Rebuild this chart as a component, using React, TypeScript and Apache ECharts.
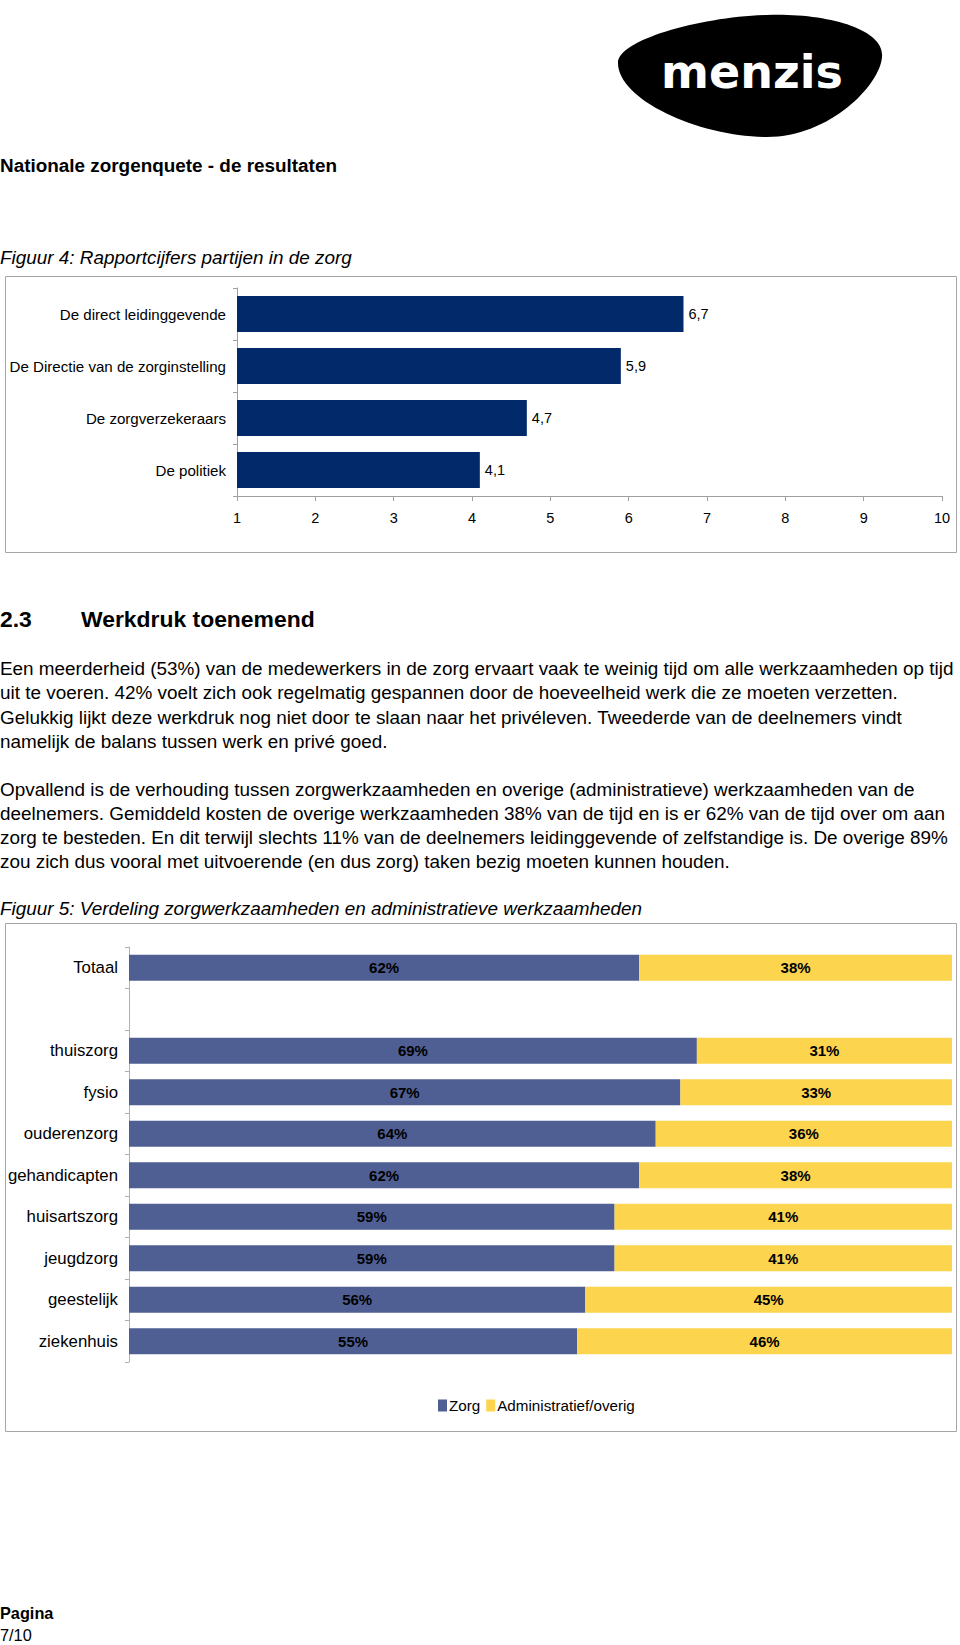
import React, { useEffect, useRef } from "react";
import * as echarts from "echarts";

// ---- Figure 4 data ----
const partijen = [
  "De direct leidinggevende",
  "De Directie van de zorginstelling",
  "De zorgverzekeraars",
  "De politiek",
];
const cijfers = [6.7, 5.9, 4.7, 4.1];

// ---- Figure 5 data ----
const sectoren = [
  "Totaal",
  "",
  "thuiszorg",
  "fysio",
  "ouderenzorg",
  "gehandicapten",
  "huisartszorg",
  "jeugdzorg",
  "geestelijk",
  "ziekenhuis",
];
const zorg: (number | null)[] = [62, null, 69, 67, 64, 62, 59, 59, 56, 55];
const admin: (number | null)[] = [38, null, 31, 33, 36, 38, 41, 41, 45, 46];
const legendNames = ["Zorg", "Administratief/overig"];

// ---- page texts ----
const pageTitle = "Nationale zorgenquete - de resultaten";
const fig4Title = "Figuur 4: Rapportcijfers partijen in de zorg";
const sectionNr = "2.3";
const sectionTitle = "Werkdruk toenemend";
const para1 = [
  "Een meerderheid (53%) van de medewerkers in de zorg ervaart vaak te weinig tijd om alle werkzaamheden op tijd",
  "uit te voeren. 42% voelt zich ook regelmatig gespannen door de hoeveelheid werk die ze moeten verzetten.",
  "Gelukkig lijkt deze werkdruk nog niet door te slaan naar het privéleven. Tweederde van de deelnemers vindt",
  "namelijk de balans tussen werk en privé goed.",
];
const para2 = [
  "Opvallend is de verhouding tussen zorgwerkzaamheden en overige (administratieve) werkzaamheden van de",
  "deelnemers. Gemiddeld kosten de overige werkzaamheden 38% van de tijd en is er 62% van de tijd over om aan",
  "zorg te besteden. En dit terwijl slechts 11% van de deelnemers leidinggevende of zelfstandige is. De overige 89%",
  "zou zich dus vooral met uitvoerende (en dus zorg) taken bezig moeten kunnen houden.",
];
const fig5Title = "Figuur 5: Verdeling zorgwerkzaamheden en administratieve werkzaamheden";
const footer1 = "Pagina";
const footer2 = "7/10";

const FONT = "'Liberation Sans', Arial, Helvetica, sans-serif";
const logoPath =
  "M 618 63 C 618 40 700 17 767 15 C 830 13 885 30 882 57 C 880 85 830 137 767 137 C 700 137 618 100 618 63 Z";

let registered = false;

export default function App() {
  const ref = useRef<HTMLDivElement>(null);

  useEffect(() => {
    document.body.style.margin = "0";
    if (!registered) {
      echarts.graphic.registerShape("menzisLogo", echarts.graphic.extendPath(logoPath, {}) as any);
      registered = true;
    }
    const chart = echarts.init(ref.current!, undefined, { renderer: "svg" });

    const totals = zorg.map((z, i) => (z == null || admin[i] == null ? null : (z as number) + (admin[i] as number)));
    const zorgPct = zorg.map((z, i) => (z == null ? "-" : ((z as number) / (totals[i] as number)) * 100));
    const adminPct = admin.map((a, i) => (a == null ? "-" : ((a as number) / (totals[i] as number)) * 100));

    const txt = (text: string, x: number, y: number, font: string, extra: any = {}) => ({
      type: "text",
      silent: true,
      style: { text, x, y, font, fill: "#000", verticalAlign: "middle", ...extra },
    });

    const graphic: any[] = [
      { type: "menzisLogo", x: 0, y: 0, silent: true, style: { fill: "#000" } },
      txt("menzis", 752, 72, `bold 46px 'DejaVu Sans', sans-serif`, { fill: "#fff", align: "center" }),
      txt(pageTitle, 0, 165, `bold 18.9px ${FONT}`),
      txt(fig4Title, 0, 257, `italic 18.9px ${FONT}`),
      {
        type: "rect",
        silent: true,
        shape: { x: 5.5, y: 276.5, width: 951, height: 276 },
        style: { fill: "none", stroke: "#a6a6a6", lineWidth: 1 },
      },
      txt(sectionNr, 0, 619, `bold 22.9px ${FONT}`),
      txt(sectionTitle, 81, 619, `bold 22.9px ${FONT}`),
      ...para1.map((l, i) => txt(l, 0, 668 + i * 24.5, `18.9px ${FONT}`)),
      ...para2.map((l, i) => txt(l, 0, 789 + i * 24, `18.9px ${FONT}`)),
      txt(fig5Title, 0, 908, `italic 18.9px ${FONT}`),
      {
        type: "rect",
        silent: true,
        shape: { x: 5.5, y: 923.5, width: 951, height: 508 },
        style: { fill: "none", stroke: "#a6a6a6", lineWidth: 1 },
      },
      txt(footer1, 0, 1613, `bold 16.3px ${FONT}`),
      txt(footer2, 0, 1635, `16.3px ${FONT}`),
    ];

    chart.setOption({
      animation: false,
      textStyle: { fontFamily: FONT },
      graphic,
      legend: {
        data: legendNames,
        left: 433,
        top: 1393,
        itemWidth: 9,
        itemHeight: 12,
        itemGap: 6,
        icon: "rect",
        textStyle: { fontSize: 15.2, color: "#000", padding: [0, 0, 0, -3] },
      },
      grid: [
        { left: 237, right: 18, top: 288, bottom: 1645 - 496 },
        { left: 129, right: 8, top: 947, bottom: 1645 - 1362 },
      ],
      xAxis: [
        {
          gridIndex: 0,
          type: "value",
          min: 1,
          max: 10,
          interval: 1,
          axisLine: { show: true, lineStyle: { color: "#a0a0a0" } },
          axisTick: { show: true, length: 5, lineStyle: { color: "#a0a0a0" } },
          axisLabel: { fontSize: 14.5, color: "#000", margin: 14 },
          splitLine: { show: false },
        },
        {
          gridIndex: 1,
          type: "value",
          min: 0,
          max: 100,
          show: false,
        },
      ],
      yAxis: [
        {
          gridIndex: 0,
          type: "category",
          inverse: true,
          data: partijen,
          axisLine: { show: true, lineStyle: { color: "#a0a0a0" } },
          axisTick: { show: true, length: 4, lineStyle: { color: "#a0a0a0" } },
          axisLabel: { fontSize: 15.1, color: "#000", margin: 11 },
        },
        {
          gridIndex: 1,
          type: "category",
          inverse: true,
          data: sectoren,
          axisLine: { show: true, lineStyle: { color: "#b0b0b0" } },
          axisTick: { show: true, length: 4, lineStyle: { color: "#b0b0b0" } },
          axisLabel: { fontSize: 16.8, color: "#000", margin: 11 },
        },
      ],
      series: [
        {
          type: "bar",
          xAxisIndex: 0,
          yAxisIndex: 0,
          data: cijfers,
          barWidth: 36,
          clip: true,
          itemStyle: { color: "#022a6b" },
          label: {
            show: true,
            position: "right",
            distance: 5,
            fontSize: 14.5,
            color: "#000",
            formatter: (p: any) => String(p.value).replace(".", ","),
          },
        },
        {
          name: legendNames[0],
          type: "bar",
          xAxisIndex: 1,
          yAxisIndex: 1,
          stack: "verdeling",
          data: zorgPct,
          barWidth: 26,
          itemStyle: { color: "#4f5f93" },
          label: {
            show: true,
            position: "inside",
            fontSize: 15,
            fontWeight: "bold",
            color: "#000",
            formatter: (p: any) => `${zorg[p.dataIndex]}%`,
          },
        },
        {
          name: legendNames[1],
          type: "bar",
          xAxisIndex: 1,
          yAxisIndex: 1,
          stack: "verdeling",
          data: adminPct,
          barWidth: 26,
          itemStyle: { color: "#fdd44e" },
          label: {
            show: true,
            position: "inside",
            fontSize: 15,
            fontWeight: "bold",
            color: "#000",
            formatter: (p: any) => `${admin[p.dataIndex]}%`,
          },
        },
      ],
    });

    return () => chart.dispose();
  }, []);

  return <div ref={ref} style={{ width: 960, height: 1645 }} />;
}
